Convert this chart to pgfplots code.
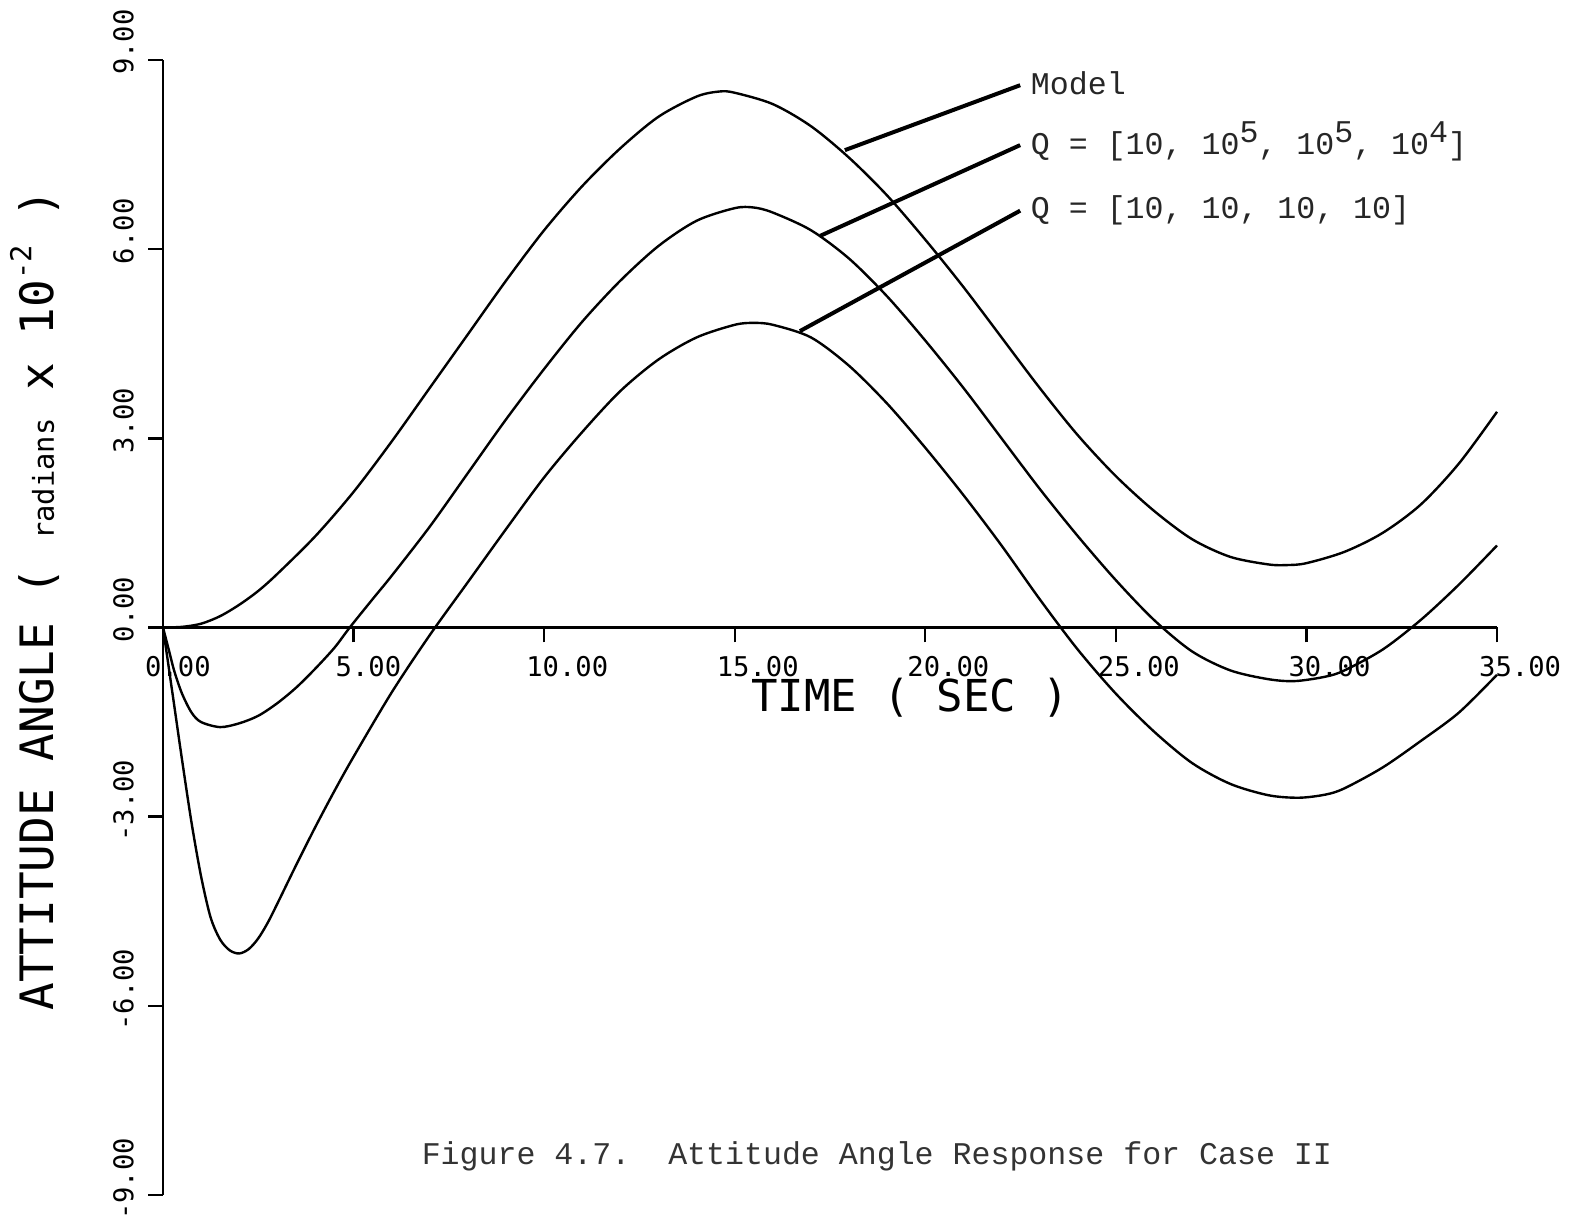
\documentclass[border=0pt]{standalone}
\usepackage{fontspec}
\usepackage{pgfplots}
\pgfplotsset{compat=1.18}
\newfontfamily\plotfont{DejaVu Sans Mono}
\newfontfamily\typefont{Liberation Mono}
\frenchspacing
% negative tick labels: the minus sign sits ahead of the digits
\newcommand{\neglab}[1]{\hspace*{-2.5pt}-#1}

\begin{document}
\begin{tikzpicture}
\path[use as bounding box] (0,0) rectangle (393pt,306.75pt);
\begin{axis}[
  at={(40.75pt,8pt)}, anchor=south west,
  scale only axis, width=333.5pt, height=283.75pt,
  xmin=0, xmax=35, ymin=-9, ymax=9,
  axis x line=middle, axis y line=left,
  hide obscured x ticks=false,
  x axis line style={-, line width=0.6pt},
  y axis line style={-, line width=0.6pt},
  xtick={0,5,...,35}, ytick={-9,-6,...,9},
  xticklabels={0.00,5.00,10.00,15.00,20.00,25.00,30.00,35.00},
  yticklabels={\neglab{9.00},\neglab{6.00},\neglab{3.00},0.00,3.00,6.00,9.00},
  tick align=outside, major tick length=3.75pt,
  tick style={line width=0.6pt, black},
  tick label style={font=\plotfont\fontsize{6.8}{8}\selectfont},
  xticklabel style={anchor=north west, xshift=-8pt, yshift=0pt},
  yticklabel style={yshift=-7.25pt, rotate=90, anchor=south west},
  xlabel={TIME ( SEC )},
  ylabel={ATTITUDE ANGLE ( {\fontsize{7.2}{8}\selectfont radians} x 10\raisebox{0.9ex}{\fontsize{7.2}{8}\selectfont -2} )},
  every axis x label/.style={at={(axis description cs:0.56,0.438)}, anchor=center, font=\plotfont\fontsize{11}{12}\selectfont},
  every axis y label/.style={at={(axis description cs:-0.096,0.524)}, rotate=90, anchor=center, font=\plotfont\fontsize{11.5}{12}\selectfont},
  clip=false,
]
% Model response
\addplot[black, line width=0.6pt, smooth] coordinates {
 (0,0) (0.5,0.01) (1,0.06) (1.5,0.18) (2,0.36) (2.5,0.58) (3,0.85) (4,1.45)
 (5,2.15) (6,2.95) (7,3.8) (8,4.65) (9,5.5) (10,6.3) (11,7.0) (12,7.6)
 (13,8.1) (14,8.42) (14.6,8.5) (15,8.48) (16,8.3) (17,7.95) (18,7.45)
 (19,6.85) (20,6.15) (21,5.4) (22,4.6) (23,3.8) (24,3.05) (25,2.4)
 (26,1.85) (27,1.4) (28,1.12) (29,1.0) (29.5,0.99) (30,1.02) (31,1.2)
 (32,1.5) (33,1.95) (34,2.6) (35,3.42)};
% Q = [10, 1e5, 1e5, 1e4]
\addplot[black, line width=0.6pt, smooth] coordinates {
 (0,0) (0.15,-0.35) (0.3,-0.7) (0.5,-1.05) (0.75,-1.35) (1,-1.5) (1.5,-1.58)
 (2,-1.52) (2.5,-1.4) (3,-1.2) (3.5,-0.95) (4,-0.65) (4.5,-0.32) (4.9,0)
 (5.5,0.45) (6,0.82) (7,1.6) (8,2.45) (9,3.3) (10,4.1) (11,4.85) (12,5.5)
 (13,6.05) (14,6.45) (15,6.65) (15.5,6.66) (16,6.58) (17,6.3) (18,5.85)
 (19,5.25) (20,4.55) (21,3.8) (22,3.0) (23,2.2) (24,1.45) (25,0.75)
 (26,0.12) (27,-0.38) (28,-0.68) (29,-0.82) (29.7,-0.85) (30.5,-0.78)
 (31,-0.68) (32,-0.35) (33,0.12) (34,0.68) (35,1.3)};
% Q = [10, 10, 10, 10]
\addplot[black, line width=0.6pt, smooth] coordinates {
 (0,0) (0.25,-1.05) (0.5,-2.1) (0.75,-3.1) (1,-3.95) (1.25,-4.6) (1.5,-4.95)
 (1.75,-5.12) (2,-5.17) (2.25,-5.1) (2.5,-4.93) (2.75,-4.68) (3,-4.38)
 (3.5,-3.76) (4,-3.16) (4.5,-2.59) (5,-2.05) (6,-1.03) (7,-0.12) (8,0.72)
 (9,1.56) (10,2.38) (11,3.1) (12,3.75) (13,4.25) (14,4.6) (15,4.8)
 (15.5,4.83) (16,4.8) (17,4.6) (18,4.15) (19,3.55) (20,2.85) (21,2.1)
 (22,1.3) (23,0.45) (24,-0.35) (25,-1.05) (26,-1.65) (27,-2.15) (28,-2.48)
 (29,-2.66) (29.8,-2.7) (30.5,-2.65) (31,-2.55) (32,-2.22) (33,-1.8)
 (34,-1.35) (35,-0.75)};
% leader lines to the curve labels
\addplot[black, line width=1pt] coordinates {(17.89,7.57) (22.49,8.60)};
\addplot[black, line width=1pt] coordinates {(17.24,6.21) (22.49,7.65)};
\addplot[black, line width=1pt] coordinates {(16.71,4.70) (22.49,6.61)};
\begin{scope}[every node/.style={anchor=base west, inner sep=0pt,
    font=\typefont\fontsize{7.9}{9}\selectfont, text=black!85}]
\node at (axis cs:22.75,8.45) {Model};
\node at (axis cs:22.75,7.50) {Q = [10, 10\raisebox{3pt}{5}, 10\raisebox{3pt}{5}, 10\raisebox{3pt}{4}]};
\node at (axis cs:22.75,6.48) {Q = [10, 10, 10, 10]};
\end{scope}
\node[font=\typefont\fontsize{7.9}{9}\selectfont, text=black!80, inner sep=0pt]
  at (axis cs:18.73,-8.39) {Figure 4.7.~~Attitude Angle Response for Case II};
\end{axis}
\end{tikzpicture}
\end{document}
